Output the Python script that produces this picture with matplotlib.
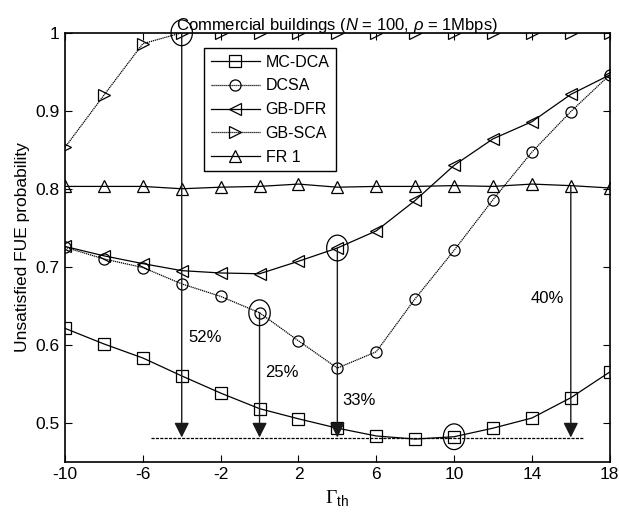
import numpy as np
import matplotlib
matplotlib.use('Agg')
import matplotlib.pyplot as plt
from matplotlib.patches import Ellipse

plt.rcParams['font.family'] = ['Liberation Sans', 'DejaVu Sans']
plt.rcParams['mathtext.fontset'] = 'custom'
plt.rcParams['mathtext.rm'] = 'Liberation Serif'
plt.rcParams['mathtext.it'] = 'Liberation Sans:italic'
plt.rcParams['mathtext.sf'] = 'Liberation Sans'
plt.rcParams['axes.unicode_minus'] = False

# data
gamma_th = [-10, -8, -6, -4, -2, 0, 2, 4, 6, 8, 10, 12, 14, 16, 18]
mc_dca = [0.621, 0.601, 0.583, 0.560, 0.538, 0.518, 0.505, 0.493, 0.483, 0.479,
          0.482, 0.493, 0.506, 0.532, 0.565]
dcsa = [0.725, 0.710, 0.699, 0.678, 0.662, 0.641, 0.605, 0.570, 0.591, 0.659,
        0.721, 0.786, 0.847, 0.899, 0.946]
gb_dfr = [0.726, 0.714, 0.704, 0.695, 0.692, 0.691, 0.707, 0.724, 0.746, 0.785,
          0.830, 0.864, 0.886, 0.921, 0.946]
gb_sca = [0.853, 0.920, 0.986, 1.0, 1.0, 1.0, 1.0, 1.0, 1.0, 1.0,
          1.0, 1.0, 1.0, 1.0, 1.0]
fr1 = [0.803, 0.803, 0.803, 0.800, 0.802, 0.803, 0.806, 0.802, 0.803, 0.803,
       0.804, 0.803, 0.806, 0.804, 0.801]

# reference level and the arrows down to it
ref_level = 0.481
ref_span = [-5.6, 16.7]
arrow_x = [-4, 0, 4, 16]
arrow_top = [1.0, 0.641, 0.724, 0.803]
circ_x = [-4, 0, 4, 10]
circ_y = [1.0, 0.641, 0.724, 0.482]
pct_labels = ['52%', '25%', '33%', '40%']
pct_x = [-3.65, 0.3, 4.25, 13.95]
pct_y = [0.609, 0.564, 0.528, 0.659]

fig = plt.figure(figsize=(6.19, 5.18), dpi=100)
ax = fig.add_axes([0.105, 0.1087, 0.88, 0.828])

mk = dict(color='k', markerfacecolor='none', markeredgecolor='k',
          markersize=8, markeredgewidth=0.9, linewidth=0.9)
dots = (0, (1, 0.6))
ax.plot(gamma_th, mc_dca, marker='s', linestyle='-', label='MC-DCA', **mk)
ax.plot(gamma_th, dcsa, marker='o', linestyle=dots, label='DCSA', **mk)
ax.plot(gamma_th, gb_dfr, marker='<', linestyle='-', label='GB-DFR', **mk)
ax.plot(gamma_th, gb_sca, marker='>', linestyle=dots, label='GB-SCA', **mk)
ax.plot(gamma_th, fr1, marker='^', linestyle='-', label='FR 1', **mk)

ax.plot(ref_span, [ref_level, ref_level], color='k', lw=0.9,
        linestyle=(0, (2.5, 1)))

for x, top in zip(arrow_x, arrow_top):
    ax.annotate('', xy=(x, ref_level), xytext=(x, top),
                arrowprops=dict(arrowstyle='-|>,head_length=0.9,head_width=0.45',
                                color='0.1', lw=1.0, mutation_scale=10,
                                shrinkA=0, shrinkB=0))

for x, y in zip(circ_x, circ_y):
    ax.add_patch(Ellipse((x, y), 1.1, 0.033, fill=False, ec='k', lw=0.9,
                         clip_on=False, zorder=5))

for s, x, y in zip(pct_labels, pct_x, pct_y):
    ax.text(x, y, s, fontsize=12, ha='left', va='center')

ax.set_xlim(-10, 18)
ax.set_ylim(0.45, 1.0)
ax.set_xticks(np.arange(-10, 19, 4))
ax.set_yticks([0.5, 0.6, 0.7, 0.8, 0.9, 1.0])
ax.set_yticklabels(['0.5', '0.6', '0.7', '0.8', '0.9', '1'])
ax.tick_params(direction='in', top=True, right=True, length=5, width=0.8,
               labelsize=12.5, pad=4)
for sp in ax.spines.values():
    sp.set_linewidth(1.2)

ax.set_xlabel(r'$\Gamma_{\mathsf{th}}$', fontsize=14, labelpad=4)
ax.set_ylabel('Unsatisfied FUE probability', fontsize=12.5, labelpad=4)
ax.set_title(r'Commercial buildings ($N$ = 100, $\rho$ = 1Mbps)',
             fontsize=12, pad=2)

leg = ax.legend(loc='upper left', bbox_to_anchor=(0.2555, 0.964),
                fontsize=11.5, handlelength=3.1, handletextpad=0.35,
                labelspacing=0.55, borderpad=0.4, fancybox=False,
                framealpha=1, edgecolor='k', borderaxespad=0)
leg.get_frame().set_linewidth(1.0)

fig.savefig('out.png', dpi=100)
